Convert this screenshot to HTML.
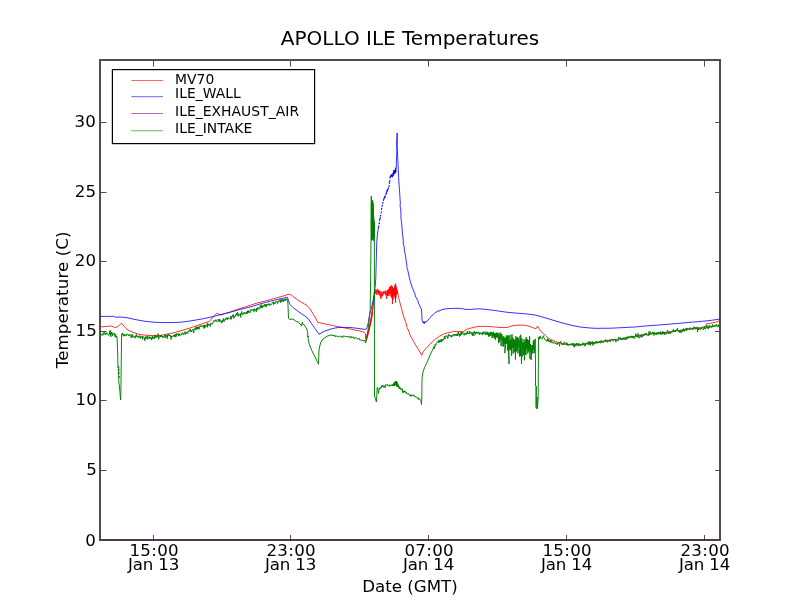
<!DOCTYPE html>
<html lang="en"><head><meta charset="utf-8"><title>APOLLO ILE Temperatures</title>
<style>
html,body{margin:0;padding:0;background:#fff;overflow:hidden}
svg{display:block}
text{font-family:"DejaVu Sans","Liberation Sans",sans-serif;fill:#000}
.t{font-size:16.67px}
.x{letter-spacing:0.3px}
.j{letter-spacing:-0.2px}
.l{font-size:13.89px;letter-spacing:0.05px}
.ti{font-size:20px}
.c{fill:none;stroke-width:0.8;stroke-linejoin:round}
</style></head><body>
<svg width="800" height="600" viewBox="0 0 800 600">
<rect width="800" height="600" fill="#fff"/>
<text class="ti" x="410" y="45" text-anchor="middle">APOLLO ILE Temperatures</text>
<rect x="100" y="60" width="620" height="480" fill="none" stroke="#4e4e4e" stroke-width="2"/>
<clipPath id="ax"><rect x="100" y="60" width="620" height="480"/></clipPath>
<g class="c" clip-path="url(#ax)">
<path stroke="#ff0000" d="M99.5 327.0 L105.0 326.5 L111.5 326.0 L114.5 327.5 L117.0 327.0 L119.0 325.5 L121.5 323.2 L123.0 325.0 L126.0 328.5 L128.0 330.0 L133.0 332.3 L138.0 334.0 L143.0 335.0 L150.0 335.5 L160.0 335.5 L165.0 334.5 L170.0 333.5 L175.0 332.5 L180.0 331.0 L190.0 328.0 L200.0 324.5 L209.5 321.3 L213.0 317.0 L216.5 313.3 L218.0 313.5 L220.0 315.0 L225.0 313.5 L230.0 312.0 L240.0 308.5 L245.0 307.0 L255.0 303.7 L265.0 301.0 L275.0 298.3 L285.0 295.5 L288.0 294.3 L290.5 294.5 L295.0 298.0 L300.0 301.5 L307.0 305.5 L310.0 308.8 L315.0 317.0 L317.8 322.3 L320.0 322.8 L330.0 325.0 L340.0 327.0 L350.0 329.0 L360.0 331.0 L364.0 332.2 L365.3 333.5 L365.7 338.0 L366.1 341.1 L366.1 337.1 L366.7 339.5 L366.6 335.5 L367.2 337.9 L367.1 333.9 L367.7 336.3 L367.6 332.3 L368.2 334.7 L368.1 330.7 L368.6 333.1 L368.5 329.1 L369.0 331.5 L368.9 327.5 L369.4 329.9 L369.3 325.9 L369.7 328.3 L369.6 324.3 L370.1 326.7 L370.0 322.7 L370.5 325.1 L370.3 321.1 L370.8 323.5 L370.6 319.5 L371.1 321.9 L370.9 317.9 L371.4 320.3 L371.2 316.3 L371.7 318.7 L371.5 314.7 L372.0 317.1 L371.8 313.1 L372.2 315.5 L372.0 311.5 L372.4 313.9 L372.2 310.6 L372.6 311.6 L372.4 309.0 L372.8 310.0 L372.6 307.4 L373.0 308.4 L372.8 305.8 L373.2 306.8 L373.0 304.2 L373.4 305.2 L373.2 302.6 L373.6 303.6 L373.4 301.0 L373.8 302.0 L373.6 299.4 L374.0 300.4 L373.9 297.8 L374.3 298.8 L374.0 296.2 L374.4 297.2 L374.2 294.6 L374.6 295.6 L374.4 293.0 L374.8 294.0 L374.6 291.4 L374.9 292.4 L374.7 289.8 L375.2 289.2 L375.6 293.6 L376.2 289.9 L376.8 295.0 L377.3 288.9 L377.8 293.0 L378.3 289.8 L378.7 294.5 L379.1 290.6 L379.6 295.5 L380.1 291.0 L380.7 298.1 L380.8 298.9 L381.1 291.6 L381.6 297.3 L382.1 292.4 L382.7 296.1 L383.2 291.3 L383.6 294.1 L384.1 291.7 L384.6 293.4 L385.2 290.5 L385.6 295.2 L386.1 291.2 L386.7 298.6 L386.7 298.9 L387.2 290.6 L387.5 295.9 L387.9 289.7 L388.3 295.2 L388.6 289.1 L389.0 295.9 L389.3 288.6 L389.5 287.0 L389.7 294.0 L390.0 287.1 L390.3 293.3 L390.6 286.4 L391.0 296.5 L391.2 285.2 L391.3 287.5 L391.7 297.7 L392.0 286.6 L392.3 299.0 L392.4 286.5 L392.5 304.0 L392.6 288.7 L393.0 299.6 L393.3 288.2 L393.7 295.2 L394.0 288.3 L394.4 296.9 L394.7 285.4 L395.1 296.0 L395.3 299.0 L395.4 286.9 L395.4 283.5 L395.6 302.5 L395.8 285.0 L395.8 298.2 L396.2 287.0 L396.4 294.5 L396.7 288.5 L397.1 293.7 L397.5 290.5 L397.5 292.0 L398.7 297.5 L400.0 303.0 L401.5 308.5 L403.0 314.0 L404.5 319.0 L406.0 323.0 L407.0 327.5 L409.0 331.5 L410.0 335.0 L412.0 338.5 L415.0 344.0 L419.0 350.5 L421.7 355.3 L423.0 352.0 L426.0 348.5 L430.0 344.0 L435.0 339.5 L440.0 335.8 L445.0 333.5 L450.0 332.3 L455.0 331.4 L460.0 331.5 L463.0 332.0 L465.0 330.5 L468.0 328.8 L470.0 328.3 L475.0 327.0 L480.0 326.3 L490.0 326.5 L500.0 327.5 L507.0 327.5 L512.0 325.8 L520.0 325.0 L525.0 325.3 L530.0 326.5 L535.0 328.5 L536.3 328.5 L537.5 326.0 L539.0 328.5 L541.0 331.5 L545.0 335.0 L548.0 338.0 L552.0 340.0 L558.0 342.5 L565.0 344.0 L575.0 345.0 L580.0 344.5 L590.0 343.5 L600.0 342.0 L605.0 341.0 L610.0 340.0 L620.0 339.0 L625.0 338.0 L630.0 337.0 L640.0 335.3 L650.0 334.0 L660.0 333.0 L670.0 331.7 L680.0 330.5 L690.0 329.0 L700.0 327.8 L705.5 326.5 L706.5 324.0 L708.0 323.5 L712.0 323.0 L716.0 322.0 L718.0 321.5 L719.3 320.5 L721.0 319.5"/>
<path stroke="#0000ff" d="M99.5 316.5 L113.2 316.3 L113.7 315.8 L115.0 317.2 L120.0 317.0 L126.0 317.5 L135.0 319.5 L145.0 321.3 L155.0 322.3 L165.0 322.6 L172.0 322.5 L180.0 322.3 L190.0 321.0 L200.0 319.3 L210.0 317.3 L220.0 314.8 L230.0 312.3 L240.0 309.5 L250.0 307.0 L255.0 305.5 L265.0 302.5 L275.0 300.0 L285.0 297.8 L287.5 297.3 L288.5 301.0 L290.0 304.5 L293.0 307.5 L300.0 312.8 L305.0 316.0 L308.0 318.5 L311.5 323.5 L315.0 328.5 L319.0 334.3 L322.0 332.5 L325.0 331.0 L330.0 329.3 L335.0 328.0 L340.0 327.3 L350.0 327.5 L355.0 328.0 L360.0 328.7 L364.0 329.3 L366.0 329.3 L367.0 327.5 L368.0 324.0 L369.0 318.0 L370.0 313.5 L371.5 308.0 L373.0 301.0 L374.3 293.0 L375.3 285.0 L375.8 278.0 L376.0 270.0 L376.4 255.0 L376.8 241.0 L376.9 240.9 L377.2 236.1 L377.4 236.2 L377.7 232.0 L378.1 230.5 L378.4 227.0"/>
<path stroke="#0000ff" stroke-dasharray="2.6 1.3" stroke-width="0.95" d="M378.4 227.0 L378.6 227.4 L379.1 223.6 L379.3 224.1 L379.8 218.3 L380.1 219.3 L380.3 215.1 L380.6 216.2 L380.9 213.6 L381.3 212.6 L381.7 208.1 L382.0 208.3 L382.2 205.4 L382.5 205.9 L382.8 202.1 L383.2 202.6 L383.5 199.3 L383.9 200.5 L384.2 197.5 L384.7 198.9 L385.0 195.1 L385.2 197.1 L385.6 194.3 L386.0 194.6 L386.4 191.7 L386.7 193.8 L387.0 190.1 L387.4 191.7 L387.7 188.2 L388.2 189.4 L388.6 186.5 L389.0 187.1 L389.4 182.4 L389.7 183.7 L390.1 176.5"/>
<path stroke="#0000ff" d="M390.1 176.5 L390.4 177.6 L390.7 175.3 L391.1 176.5 L391.4 174.4 L391.8 176.7 L392.1 174.5 L392.6 177.2 L393.0 172.6 L393.4 175.9 L393.8 170.3 L394.0 174.3 L394.3 170.1 L394.7 173.9 L395.0 169.7 L395.3 173.1 L395.6 167.7 L396.0 172.1 L395.8 170.0 L396.4 166.0 L396.3 162.0 L396.9 150.0 L396.7 143.0 L397.1 133.0 L397.3 140.0 L397.1 147.0 L397.6 155.0 L398.2 168.0 L398.5 175.0 L399.0 184.0 L399.5 190.0 L400.3 203.0 L400.1 206.0 L400.7 209.0 L401.0 215.0 L400.8 217.0 L401.5 222.0 L402.2 230.0 L403.0 238.0 L403.4 241.0 L403.1 243.0 L404.0 246.0 L404.6 251.0 L405.5 256.0 L406.2 261.0 L407.0 266.0 L406.8 267.5 L407.5 269.0 L409.0 276.0 L410.0 280.5 L412.0 287.0 L415.0 294.0 L415.3 296.0 L418.0 301.0 L418.4 303.0 L421.3 309.0 L421.7 312.0 L422.0 320.0 L422.6 321.5 L423.2 323.0 L423.6 321.5 L424.2 323.7 L424.7 321.6 L425.3 322.5 L426.0 321.3 L427.0 321.5 L430.0 317.5 L433.0 314.8 L434.5 313.3 L437.0 311.5 L437.5 310.7 L438.0 311.5 L440.0 310.5 L443.0 309.3 L447.0 308.7 L455.0 308.3 L460.0 308.4 L460.8 309.0 L462.0 308.2 L464.0 309.2 L470.0 309.5 L478.0 308.8 L485.0 309.3 L495.0 310.5 L505.0 312.0 L515.0 313.0 L525.0 313.8 L535.0 315.0 L540.0 316.3 L550.0 319.3 L560.0 322.3 L570.0 325.0 L580.0 327.0 L590.0 328.0 L595.0 328.3 L600.0 328.3 L610.0 328.2 L615.0 328.0 L625.0 327.5 L635.0 327.0 L645.0 326.0 L655.0 325.3 L665.0 324.5 L675.0 323.7 L685.0 322.8 L690.0 322.3 L700.0 321.5 L710.0 320.5 L718.0 319.3 L721.0 318.9"/>
<path stroke="#800080" d="M99.0 540.0 L721.0 540.0"/>
<path stroke="#008000" stroke-width="0.95" d="M99.5 336.6 L100.1 334.0 L100.7 335.6 L101.1 333.8 L101.7 334.7 L102.1 335.0 L102.4 335.5 L102.8 334.6 L103.3 332.8 L103.6 334.6 L104.2 332.1 L104.8 333.0 L105.3 335.0 L105.9 333.0 L106.2 334.1 L106.8 332.6 L107.4 334.3 L107.8 334.1 L108.3 334.5 L108.5 334.0 L109.0 335.4 L109.3 334.3 L109.6 331.5 L109.9 334.0 L110.2 330.2 L110.8 336.9 L111.2 332.0 L111.6 333.9 L112.0 332.5 L112.4 336.1 L113.0 333.2 L113.3 333.3 L113.7 334.2 L114.3 333.1 L114.5 335.4 L114.9 335.1 L115.2 337.0 L115.7 334.3 L116.0 337.3 L116.4 336.0 L116.7 337.4 L116.8 337.0 L117.1 338.0 L117.7 355.0 L118.0 368.0 L118.9 366.5 L118.1 371.0 L119.1 369.5 L118.1 374.0 L119.2 372.5 L118.3 377.5 L119.3 376.0 L118.6 380.5 L119.4 386.0 L120.6 400.0 L120.9 392.0 L121.6 334.5 L121.8 335.2 L122.3 332.9 L122.7 335.0 L123.0 333.7 L123.6 336.3 L124.1 334.4 L124.7 335.8 L125.0 334.4 L125.5 335.6 L125.9 336.1 L126.2 336.0 L126.8 334.0 L127.4 334.2 L127.9 334.6 L128.4 335.8 L128.9 334.3 L129.5 335.5 L130.1 334.5 L130.5 334.5 L130.8 334.5 L131.1 338.0 L131.6 335.2 L132.1 337.1 L132.7 334.5 L133.2 337.2 L133.5 336.3 L134.1 337.4 L134.5 336.7 L135.1 338.2 L135.7 335.7 L136.0 337.1 L136.3 334.4 L136.7 336.6 L137.1 336.0 L137.7 336.1 L138.1 337.5 L138.7 335.9 L139.1 337.4 L139.4 336.6 L139.8 335.6 L140.3 338.6 L140.8 336.7 L141.3 336.3 L141.7 337.5 L142.2 336.3 L142.7 339.3 L143.0 336.4 L143.3 337.5 L143.8 337.4 L144.3 337.5 L144.9 340.8 L145.4 336.7 L145.6 338.6 L146.2 336.6 L146.6 337.1 L147.0 338.9 L147.4 335.8 L147.7 339.4 L148.3 337.3 L148.7 336.8 L149.2 338.5 L149.5 336.6 L150.1 338.5 L150.5 337.5 L150.9 337.4 L151.4 340.1 L152.0 336.9 L152.4 336.0 L152.7 339.1 L153.0 338.4 L153.4 338.3 L153.7 338.8 L154.2 336.2 L154.5 338.6 L154.8 336.2 L155.4 334.8 L155.9 337.9 L156.4 336.1 L156.8 337.2 L157.1 336.0 L157.5 337.0 L158.1 333.6 L158.7 339.3 L159.0 336.5 L159.6 336.9 L159.9 336.7 L160.2 335.4 L160.5 337.1 L160.9 335.4 L161.2 337.0 L161.6 335.1 L162.2 337.1 L162.8 336.2 L163.1 337.9 L163.5 336.6 L164.0 336.2 L164.4 335.8 L164.7 335.1 L165.1 338.0 L165.7 334.7 L166.0 336.9 L166.6 335.5 L167.0 337.1 L167.3 338.6 L167.7 334.5 L168.2 335.6 L168.5 334.1 L169.0 335.5 L169.4 334.8 L169.6 336.0 L170.1 335.6 L170.4 335.1 L170.8 337.6 L171.1 339.5 L171.4 336.1 L171.9 337.1 L172.3 336.1 L172.8 335.8 L173.2 336.5 L173.7 335.2 L174.1 336.5 L174.5 334.5 L174.8 336.4 L175.3 337.2 L175.8 333.9 L176.1 336.7 L176.5 333.6 L177.0 334.8 L177.3 334.2 L177.8 335.2 L178.2 333.4 L178.5 334.8 L178.9 336.2 L179.2 333.7 L179.8 335.5 L180.3 335.4 L180.8 335.1 L181.1 333.7 L181.7 334.6 L182.3 332.6 L182.6 332.7 L183.2 334.4 L183.5 335.1 L184.1 333.1 L184.6 333.0 L185.0 331.6 L185.3 334.3 L185.5 332.8 L186.1 334.0 L186.6 332.3 L187.2 331.9 L187.8 333.4 L188.2 331.5 L188.6 332.0 L189.1 330.2 L189.7 331.2 L190.2 329.0 L190.8 332.0 L191.2 330.5 L191.7 331.7 L192.1 330.2 L192.5 330.1 L193.1 329.2 L193.7 333.0 L194.3 329.2 L194.7 329.1 L195.1 327.9 L195.6 329.8 L195.9 327.1 L196.3 329.3 L196.7 326.7 L197.0 329.3 L197.3 329.1 L197.8 326.7 L198.2 328.9 L198.6 326.9 L199.0 329.4 L199.6 326.7 L200.1 325.4 L200.6 326.6 L201.1 325.9 L201.6 326.9 L202.1 325.4 L202.4 325.8 L202.8 326.0 L203.3 327.3 L203.9 324.9 L204.2 328.5 L204.5 325.3 L204.8 327.4 L205.2 325.2 L205.7 327.3 L206.1 325.8 L206.7 325.9 L207.2 323.4 L207.6 327.3 L207.9 323.5 L208.5 325.3 L209.0 323.9 L209.5 325.1 L209.9 324.3 L210.3 326.6 L210.9 322.9 L211.4 323.3 L212.0 323.7 L212.3 324.3 L212.8 323.0 L213.3 321.6 L213.7 320.9 L214.0 320.3 L214.6 321.5 L215.2 320.4 L215.6 321.2 L216.0 319.5 L216.4 320.8 L216.9 321.8 L217.4 321.4 L217.9 321.9 L218.4 319.2 L218.9 321.0 L219.2 319.0 L219.6 321.5 L220.0 319.7 L220.3 320.9 L220.9 321.4 L221.4 323.2 L222.0 320.5 L222.5 322.3 L222.8 319.9 L223.1 320.8 L223.4 318.5 L223.7 320.2 L224.1 321.7 L224.6 319.4 L225.2 319.8 L225.6 318.4 L226.1 319.4 L226.8 317.6 L227.4 319.8 L228.0 317.5 L228.6 318.9 L229.2 318.3 L229.6 319.1 L230.2 318.3 L230.7 315.9 L231.1 319.5 L231.6 316.7 L232.1 317.2 L232.5 314.9 L232.9 316.5 L233.5 314.7 L233.8 318.5 L234.3 316.3 L234.7 317.0 L235.2 316.5 L235.8 314.3 L236.1 315.5 L236.7 313.5 L237.1 314.8 L237.6 312.1 L238.1 316.4 L238.3 313.7 L238.9 314.5 L239.5 315.4 L240.0 315.4 L240.4 313.3 L240.8 317.4 L241.1 313.8 L241.7 311.5 L242.2 314.0 L242.7 315.0 L243.0 314.3 L243.3 312.8 L243.7 314.0 L244.3 312.3 L244.7 313.9 L245.3 313.7 L245.8 312.5 L246.1 313.5 L246.6 312.4 L246.9 314.0 L247.2 311.0 L247.7 313.0 L248.0 310.5 L248.5 312.3 L248.8 310.8 L249.2 312.5 L249.6 311.5 L250.0 312.8 L250.5 311.6 L250.9 309.3 L251.5 310.7 L252.1 309.7 L252.4 310.3 L252.7 310.3 L253.1 310.5 L253.6 309.1 L254.0 311.7 L254.5 308.6 L254.9 309.9 L255.5 310.6 L255.9 309.5 L256.4 311.8 L256.7 308.0 L257.2 307.8 L257.7 310.0 L258.3 307.4 L258.9 308.6 L259.4 307.7 L259.9 308.6 L260.3 305.3 L260.8 307.5 L261.2 305.6 L261.6 307.6 L261.8 304.7 L262.3 308.1 L262.6 306.2 L263.0 306.8 L263.6 305.4 L264.2 306.5 L264.7 304.1 L265.2 306.3 L265.8 304.5 L266.2 307.1 L266.6 304.1 L267.1 305.3 L267.5 304.0 L268.0 304.9 L268.6 303.5 L269.2 305.4 L269.8 303.7 L270.2 305.3 L270.6 304.3 L271.0 304.9 L271.7 303.8 L272.1 303.2 L272.7 302.2 L273.2 301.8 L273.5 304.6 L273.9 302.0 L274.4 302.9 L274.9 304.0 L275.4 302.3 L275.9 302.1 L276.2 301.0 L276.5 301.9 L276.8 302.1 L277.2 301.5 L277.6 303.6 L278.2 301.8 L278.8 300.7 L279.2 301.7 L279.6 301.2 L280.2 299.2 L280.6 302.6 L280.9 299.9 L281.2 301.7 L281.6 300.3 L281.9 301.4 L282.2 299.1 L282.6 301.1 L283.2 299.5 L283.7 301.7 L284.1 299.3 L284.6 300.2 L285.1 298.9 L285.4 300.7 L285.9 298.6 L286.2 300.3 L286.7 299.4 L287.0 299.5 L287.4 300.0 L287.6 299.5 L288.0 305.0 L288.5 318.5 L290.0 319.5 L293.0 319.0 L295.0 320.5 L297.0 322.0 L298.2 321.6 L300.0 324.3 L301.0 324.7 L301.5 326.2 L302.3 322.3 L303.0 324.5 L304.0 324.6 L306.0 327.6 L307.3 330.5 L307.8 334.0 L307.6 337.0 L308.3 336.0 L308.2 340.0 L309.5 345.0 L312.0 351.0 L315.0 357.0 L318.0 363.0 L318.5 364.3 L318.8 355.0 L319.0 350.0 L320.0 345.0 L321.0 342.0 L323.0 339.0 L325.0 337.5 L328.0 335.8 L332.0 334.8 L332.0 335.5 L333.2 335.1 L333.9 336.2 L334.5 335.0 L335.4 336.8 L336.1 335.6 L336.9 336.6 L337.9 336.7 L339.1 336.0 L340.3 336.7 L341.2 336.2 L342.4 337.8 L343.1 335.7 L343.8 336.7 L344.6 336.2 L345.3 336.6 L346.0 336.4 L347.2 336.7 L348.1 336.0 L348.9 337.4 L349.9 336.5 L350.7 338.3 L351.3 336.2 L352.2 337.4 L353.4 336.9 L354.2 338.9 L354.9 337.5 L355.6 337.3 L356.2 338.3 L357.0 338.3 L358.2 339.2 L359.1 338.1 L360.1 340.3 L360.7 339.6 L361.8 340.9 L362.8 340.0 L363.9 341.3 L364.7 340.2 L365.0 340.6 L365.5 343.0 L366.3 340.5 L367.0 338.0 L368.0 330.0 L369.0 322.0 L369.5 315.0 L370.2 310.0 L370.6 280.0 L371.0 240.0 L371.3 196.0 L371.4 230.6 L371.5 202.0 L371.7 240.4 L371.8 200.7 L372.0 230.8 L372.1 201.0 L372.2 238.4 L372.4 200.3 L372.5 234.5 L372.6 203.3 L372.7 233.1 L372.8 201.6 L372.9 239.9 L373.0 203.7 L373.1 237.7 L373.3 207.5 L373.4 234.9 L373.5 216.4 L373.6 240.7 L373.7 216.5 L373.8 235.9 L374.0 220.4 L374.1 238.0 L374.2 222.1 L374.3 235.2 L374.4 226.0 L374.4 300.0 L374.5 396.0 L375.3 398.0 L376.4 402.0 L377.2 387.3 L377.8 389.0 L378.5 393.5 L379.3 388.0 L379.5 388.8 L380.0 387.6 L380.2 388.7 L380.7 388.3 L381.0 387.3 L381.3 388.0 L381.8 385.7 L382.3 387.0 L382.6 385.1 L382.8 386.3 L383.1 386.0 L383.5 387.3 L383.8 385.8 L384.2 386.3 L384.7 385.8 L385.1 387.9 L385.6 384.7 L385.9 385.2 L386.4 384.8 L386.8 385.2 L387.3 384.5 L387.5 384.4 L387.9 385.9 L388.5 385.9 L389.0 385.7 L389.5 384.7 L389.9 386.3 L390.4 385.1 L390.9 385.5 L391.3 385.1 L391.6 385.7 L392.0 384.4 L392.3 384.4 L392.9 385.9 L393.0 385.3 L393.1 384.6 L393.4 386.0 L393.6 383.6 L393.9 385.9 L394.1 382.8 L394.4 385.6 L394.7 382.4 L394.9 385.4 L395.2 381.4 L395.5 384.9 L395.8 381.1 L396.0 385.2 L396.3 381.1 L396.6 386.4 L396.9 381.8 L397.1 386.8 L397.4 383.1 L397.7 386.5 L397.9 384.2 L398.1 387.0 L398.3 385.3 L398.6 387.2 L398.9 385.9 L399.0 388.6 L399.4 387.1 L399.6 388.5 L400.1 387.4 L400.4 389.3 L400.9 389.0 L401.5 390.0 L402.0 388.4 L402.3 391.6 L402.6 390.5 L403.1 393.1 L403.7 390.9 L404.1 392.1 L404.4 390.7 L404.8 391.8 L405.1 391.1 L405.5 392.8 L405.8 392.5 L406.1 393.4 L406.5 392.5 L406.9 393.1 L407.3 394.1 L407.9 393.7 L408.2 394.1 L408.5 393.4 L409.0 394.7 L409.4 395.4 L409.7 395.5 L410.0 395.0 L410.5 396.3 L410.9 394.5 L411.5 396.2 L411.8 395.4 L412.2 396.0 L412.7 395.1 L413.2 395.2 L413.5 395.3 L413.8 394.7 L414.2 396.6 L414.7 396.3 L415.2 397.0 L415.7 396.8 L416.0 396.5 L416.4 397.5 L416.8 397.2 L417.4 397.9 L417.7 397.6 L418.2 399.4 L418.6 397.9 L418.8 397.8 L419.1 399.4 L419.6 399.1 L420.0 399.2 L420.3 400.4 L420.6 400.5 L421.0 401.0 L421.5 404.5 L421.8 398.0 L422.0 378.0 L423.0 372.0 L424.0 369.0 L425.0 366.7 L426.5 363.5 L428.5 359.0 L430.0 355.0 L432.0 351.0 L434.0 347.0 L434.0 349.0 L434.3 345.6 L434.6 347.1 L435.0 346.1 L435.3 344.1 L435.7 345.3 L436.2 343.6 L436.6 342.7 L437.0 341.8 L437.5 342.2 L438.0 341.5 L438.5 342.8 L439.0 339.8 L439.4 342.4 L439.9 340.4 L440.4 341.9 L441.0 339.3 L441.5 342.1 L441.8 339.1 L442.3 340.9 L442.8 340.7 L443.3 338.8 L443.6 339.7 L444.0 338.7 L444.4 336.3 L445.0 339.1 L445.3 336.5 L445.9 337.0 L446.4 335.6 L447.0 335.4 L447.4 337.0 L447.8 338.6 L448.1 337.0 L448.7 334.3 L449.3 336.0 L449.7 334.9 L450.1 335.9 L450.7 336.0 L451.1 337.0 L451.6 335.0 L451.9 337.2 L452.5 335.3 L453.1 335.8 L453.5 334.2 L453.7 335.0 L454.2 334.0 L454.7 335.7 L455.2 334.0 L455.8 335.7 L456.4 334.1 L456.8 335.9 L457.2 333.7 L457.8 335.9 L458.3 332.0 L458.6 333.7 L459.0 333.1 L459.5 336.6 L460.1 333.9 L460.5 335.4 L461.1 332.0 L461.6 334.9 L462.0 331.5 L462.4 333.1 L462.9 332.2 L463.2 334.5 L463.8 334.4 L464.3 335.3 L464.8 332.9 L465.4 333.6 L465.9 334.9 L466.4 332.5 L466.9 334.0 L467.5 331.0 L467.9 333.8 L468.4 333.0 L468.8 333.6 L469.4 331.1 L469.8 334.1 L470.1 332.5 L470.5 331.8 L470.9 331.9 L471.3 332.2 L471.6 334.2 L472.0 333.2 L472.4 335.6 L472.9 332.1 L473.4 333.6 L473.9 336.0 L474.3 331.0 L474.9 333.2 L475.5 334.3 L475.9 332.0 L476.2 333.3 L476.8 331.8 L477.3 333.6 L477.9 332.2 L478.2 332.2 L478.6 333.6 L479.0 332.4 L479.3 333.9 L479.6 335.0 L480.1 332.5 L480.6 333.3 L481.0 332.7 L481.3 333.9 L481.7 333.2 L482.2 334.9 L482.5 332.1 L483.0 334.4 L483.4 331.7 L484.0 333.0 L484.3 333.3 L484.9 331.7 L485.3 334.8 L485.8 332.5 L486.3 332.7 L486.8 334.7 L487.3 332.9 L487.6 334.9 L488.2 333.2 L488.7 336.6 L489.2 334.2 L489.7 334.9 L490.0 333.6 L486.5 331.8 L489.5 336.3 L490.2 332.0 L490.7 335.9 L491.0 331.8 L491.1 331.8 L491.5 334.5 L491.9 332.4 L492.1 338.1 L492.2 336.3 L492.7 332.7 L493.1 336.3 L493.5 332.2 L493.6 331.8 L494.0 338.0 L494.4 333.7 L494.8 338.4 L495.1 333.0 L495.4 337.1 L495.5 340.0 L495.9 333.7 L496.3 337.3 L496.6 333.3 L497.0 337.2 L497.0 332.5 L497.4 333.7 L497.8 337.7 L498.2 333.0 L498.5 343.0 L498.6 339.6 L499.0 335.2 L499.5 342.1 L500.0 334.7 L500.0 332.5 L500.4 338.7 L500.7 333.1 L501.1 346.0 L501.2 342.8 L501.6 334.6 L501.9 334.0 L502.0 340.4 L502.4 337.6 L502.8 340.5 L503.0 346.8 L503.1 336.5 L503.6 345.9 L503.8 336.3 L504.0 336.5 L504.3 343.8 L504.8 337.9 L504.9 353.1 L505.3 349.6 L505.7 337.7 L506.2 343.7 L506.4 335.5 L506.5 337.8 L506.9 343.8 L507.3 335.6 L507.5 350.5 L507.8 348.2 L508.2 340.8 L508.3 335.5 L508.6 354.2 L509.0 364.0 L509.0 341.0 L509.5 348.9 L509.8 336.3 L510.1 334.8 L510.2 350.1 L510.5 339.8 L511.0 349.4 L511.3 339.5 L511.6 355.8 L511.7 344.6 L512.0 334.4 L512.0 337.7 L512.5 347.7 L512.9 337.6 L513.1 353.5 L513.3 350.9 L513.7 339.0 L514.1 347.8 L514.3 340.0 L514.4 341.6 L514.8 352.3 L515.3 339.8 L515.4 359.5 L515.6 353.2 L515.8 336.3 L515.9 338.9 L516.3 351.5 L516.7 337.9 L517.2 350.4 L517.3 337.0 L517.6 337.8 L518.0 353.5 L518.0 348.5 L518.3 338.5 L518.8 337.8 L518.8 347.1 L519.2 340.7 L519.5 356.5 L519.7 351.0 L520.1 335.8 L520.5 356.0 L520.6 334.8 L520.9 335.7 L521.2 350.8 L521.5 364.0 L521.7 338.9 L522.1 338.5 L522.1 356.8 L522.6 343.2 L522.9 348.0 L523.2 342.0 L523.3 355.0 L523.6 353.6 L524.0 340.1 L524.0 339.3 L524.4 360.3 L524.5 350.7 L524.9 342.5 L525.1 343.0 L525.3 354.1 L525.8 339.4 L525.9 355.0 L526.3 337.0 L526.3 348.9 L526.7 339.7 L527.2 349.1 L527.6 339.1 L527.8 353.5 L527.9 349.0 L528.3 341.2 L528.5 340.0 L528.6 351.5 L528.9 342.3 L529.4 349.9 L529.6 336.3 L529.7 340.0 L530.0 358.8 L530.0 350.8 L530.3 344.0 L530.8 351.8 L531.1 345.3 L531.1 359.9 L531.5 355.4 L531.9 346.3 L531.9 345.3 L532.2 353.2 L532.6 345.1 L533.0 353.5 L533.0 350.7 L533.3 341.4 L533.7 349.6 L533.8 340.0 L534.1 341.4 L534.5 347.6 L534.5 352.8 L534.9 341.0 L535.1 338.9 L535.3 339.0 L535.5 370.0 L535.5 386.0 L535.6 386.0 L536.8 386.5 L535.6 387.0 L536.8 387.5 L535.6 388.0 L536.8 388.5 L535.6 389.0 L536.8 389.5 L535.6 390.0 L536.8 390.5 L535.6 391.0 L536.8 391.5 L535.6 392.0 L536.8 392.5 L535.6 393.0 L536.8 393.5 L535.6 394.0 L536.8 394.5 L535.6 395.0 L536.8 395.5 L535.6 396.0 L536.8 396.5 L535.6 397.0 L537.5 397.5 L535.6 398.0 L537.5 398.5 L535.6 399.0 L537.5 399.5 L535.6 400.0 L537.5 400.5 L535.6 401.0 L537.5 401.5 L535.6 402.0 L537.5 402.5 L535.6 403.0 L537.5 403.5 L535.6 404.0 L537.5 404.5 L535.6 405.0 L537.5 405.5 L535.6 406.0 L537.5 406.5 L535.6 407.0 L537.5 407.5 L536.3 408.3 L537.5 408.8 L538.2 397.0 L538.4 360.0 L538.5 337.0 L538.6 338.4 L539.1 336.9 L539.7 339.2 L540.1 336.0 L540.5 338.0 L541.1 337.8 L541.5 338.5 L541.9 339.2 L542.3 337.4 L542.7 337.7 L543.3 335.7 L543.8 337.1 L544.4 339.0 L544.7 338.8 L545.2 340.0 L545.6 340.3 L546.1 340.0 L546.5 340.6 L547.0 341.4 L547.4 338.7 L547.7 341.0 L548.3 339.2 L548.6 341.6 L549.1 339.9 L549.4 341.9 L549.8 341.2 L550.4 342.3 L550.8 340.1 L551.3 342.3 L551.7 340.7 L552.1 342.5 L552.5 342.1 L553.0 343.3 L553.3 343.5 L553.9 342.7 L554.4 341.8 L555.0 343.2 L555.4 343.8 L555.9 342.9 L556.4 343.8 L556.8 343.5 L557.2 344.8 L557.7 342.7 L558.2 342.9 L558.6 342.8 L559.0 342.7 L559.6 346.3 L560.0 341.6 L560.5 341.5 L561.0 341.6 L561.4 344.1 L561.9 344.1 L562.4 344.9 L563.0 343.7 L563.6 345.1 L564.0 342.5 L564.7 341.9 L565.3 344.4 L565.9 343.7 L566.4 345.1 L566.9 342.6 L567.3 343.9 L567.8 345.5 L568.3 344.6 L568.8 345.6 L569.4 344.1 L569.7 344.7 L570.3 343.7 L570.8 345.2 L571.2 344.4 L571.5 344.9 L572.0 343.3 L572.5 345.3 L573.1 343.0 L573.4 343.5 L573.9 346.5 L574.2 343.6 L574.5 347.3 L575.0 344.4 L575.6 344.2 L576.0 346.1 L576.3 343.0 L576.9 344.9 L577.3 344.9 L577.9 343.2 L578.4 346.2 L578.7 344.5 L579.1 345.4 L579.4 343.5 L579.9 345.3 L580.4 344.1 L580.8 345.6 L581.3 344.9 L581.9 345.4 L582.2 345.2 L582.5 345.2 L583.0 342.7 L583.3 345.0 L583.8 343.4 L584.4 343.5 L584.8 346.2 L585.3 346.0 L585.7 343.5 L586.1 343.8 L586.4 344.0 L586.9 342.6 L587.6 344.4 L588.1 343.2 L588.6 341.5 L589.2 345.0 L589.6 341.6 L589.9 342.0 L590.4 345.3 L590.9 341.7 L591.5 344.0 L591.9 342.6 L592.3 341.2 L592.9 345.5 L593.5 342.0 L593.8 343.3 L594.4 342.1 L594.9 344.2 L595.3 343.8 L595.7 343.3 L596.0 341.1 L596.3 342.8 L596.7 343.2 L597.2 343.4 L597.7 341.4 L598.3 343.1 L598.9 341.7 L599.4 342.4 L599.8 341.0 L600.4 343.2 L600.8 342.8 L601.2 340.3 L601.6 342.3 L602.1 342.6 L602.6 341.5 L602.9 341.5 L603.4 342.6 L603.9 340.5 L604.4 340.5 L604.9 340.4 L605.2 341.6 L605.8 339.5 L606.3 341.5 L606.6 341.1 L607.1 342.5 L607.4 340.1 L607.8 340.7 L608.2 340.1 L608.7 340.9 L609.0 341.8 L609.4 341.5 L609.8 339.7 L610.4 341.7 L610.8 340.8 L611.4 340.0 L611.9 338.9 L612.4 339.1 L612.9 339.8 L613.3 341.3 L613.8 340.4 L614.4 339.0 L615.0 340.0 L615.3 339.2 L615.9 342.1 L616.4 339.7 L616.7 340.2 L617.3 340.8 L617.8 341.1 L618.3 340.3 L618.8 337.2 L619.2 338.3 L619.9 338.3 L620.2 339.7 L620.5 337.6 L621.1 339.0 L621.7 339.8 L622.1 338.5 L622.6 340.1 L623.0 338.2 L623.6 337.8 L624.2 340.0 L624.8 339.4 L625.1 337.5 L625.4 338.2 L625.9 339.9 L626.2 339.3 L626.7 336.8 L627.2 338.8 L627.8 336.8 L628.4 336.3 L628.8 338.3 L629.1 336.7 L629.8 337.1 L630.2 337.0 L630.7 337.4 L631.3 335.9 L631.6 337.6 L632.0 335.9 L632.3 338.1 L633.0 336.0 L633.4 336.7 L633.9 338.4 L634.5 338.5 L634.9 336.4 L635.3 336.8 L635.8 333.7 L636.3 336.5 L636.6 335.5 L637.1 337.4 L637.6 336.2 L638.1 333.3 L638.4 335.7 L638.7 337.5 L639.3 338.1 L639.9 335.9 L640.4 335.0 L641.0 337.5 L641.4 337.2 L641.7 334.1 L642.1 336.8 L642.7 336.7 L643.2 334.8 L643.6 336.0 L643.9 334.2 L644.4 335.2 L644.9 333.4 L645.3 335.2 L645.9 333.9 L646.3 333.0 L646.8 334.9 L647.2 335.4 L647.7 336.1 L648.2 335.4 L648.5 335.9 L649.0 331.3 L649.4 332.7 L649.8 335.1 L650.3 331.7 L650.9 333.5 L651.4 333.7 L652.0 333.7 L652.5 332.2 L653.0 334.3 L653.5 332.7 L654.0 335.5 L654.3 331.8 L654.9 334.1 L655.2 333.5 L655.6 333.6 L656.2 335.0 L656.7 332.6 L657.1 334.1 L657.6 332.5 L658.1 334.4 L658.7 332.3 L659.2 334.2 L659.7 332.2 L660.2 333.9 L660.7 331.5 L661.1 334.7 L661.7 332.9 L662.3 334.4 L662.7 331.3 L663.2 331.9 L663.5 334.1 L664.1 332.1 L664.5 334.8 L665.0 332.7 L665.2 333.5 L665.7 332.0 L666.1 334.3 L666.6 333.2 L667.1 332.4 L667.5 330.0 L667.8 331.2 L668.1 333.8 L668.6 332.0 L669.1 333.9 L669.6 331.9 L670.2 333.4 L670.5 332.1 L670.9 333.3 L671.4 331.2 L672.0 332.1 L672.3 331.4 L672.8 332.2 L673.2 329.4 L673.6 331.7 L673.9 330.0 L674.4 332.0 L675.0 330.5 L675.5 331.7 L676.0 330.3 L676.3 331.0 L676.8 329.5 L677.1 330.4 L677.5 328.1 L677.8 330.1 L678.4 331.6 L678.8 330.9 L679.4 330.8 L679.7 332.5 L680.1 330.2 L680.7 330.1 L681.0 333.0 L681.3 331.3 L681.7 330.2 L682.0 331.8 L682.4 329.8 L683.0 331.1 L683.5 328.5 L683.9 331.3 L684.2 329.8 L684.6 331.2 L684.9 328.9 L685.3 330.2 L685.9 328.5 L686.4 330.7 L687.0 327.9 L687.3 329.3 L687.9 328.1 L688.2 328.9 L688.8 329.4 L689.3 329.8 L689.7 328.3 L690.1 329.4 L690.4 327.6 L691.0 328.3 L691.5 328.1 L692.0 329.6 L692.4 328.6 L692.7 329.5 L693.2 328.9 L693.6 329.2 L693.9 326.6 L694.4 328.0 L695.0 327.7 L695.2 327.0 L695.6 329.3 L696.1 328.4 L696.5 328.5 L697.1 326.8 L697.6 332.0 L698.0 327.5 L698.4 329.8 L698.8 328.0 L699.2 329.2 L699.6 327.8 L700.0 329.6 L700.6 329.6 L701.0 328.0 L701.3 329.0 L701.6 327.5 L701.9 327.6 L702.2 327.2 L702.8 327.5 L703.3 330.0 L703.8 329.1 L704.2 326.9 L704.5 328.8 L704.9 326.5 L705.5 329.0 L706.1 328.5 L706.8 325.3 L707.3 327.8 L707.8 326.4 L708.2 329.1 L708.6 327.0 L709.1 325.3 L709.8 327.9 L710.3 325.7 L710.9 326.5 L711.3 327.5 L711.8 325.8 L712.2 327.2 L712.8 324.5 L713.2 326.9 L713.7 325.8 L714.1 326.7 L714.6 325.2 L715.2 326.6 L715.7 324.9 L716.0 326.1 L716.6 324.1 L717.2 326.7 L717.6 326.7 L718.1 327.0 L718.5 324.7 L719.1 327.1 L719.4 325.0 L719.8 324.6 L720.2 327.5 L720.8 326.4 L721.0 326.0"/>
</g>
<path d="M101 470.5h5.6M719 470.5h-4M101 400.5h5.6M719 400.5h-4M101 331.5h5.6M719 331.5h-4M101 261.5h5.6M719 261.5h-4M101 192.5h5.6M719 192.5h-4M101 122.5h5.6M719 122.5h-4M153.5 539v-4M153.5 61v5.6M290.5 539v-4M290.5 61v5.6M428.5 539v-4M428.5 61v5.6M566.5 539v-4M566.5 61v5.6M704.5 539v-4M704.5 61v5.6" stroke="#505050" stroke-width="1" fill="none"/>
<path d="M101 540.5H719" stroke="#443f44" stroke-width="1" fill="none"/>
<path d="M153.5 539v2M290.5 539v2M428.5 539v2M566.5 539v2M704.5 539v2" stroke="#2a2a2a" stroke-width="1" fill="none"/>
<text class="t" x="95.8" y="545.9" text-anchor="end">0</text>
<text class="t" x="96.8" y="475.0" text-anchor="end">5</text>
<text class="t" x="96.8" y="405.0" text-anchor="end">10</text>
<text class="t" x="96.8" y="336.0" text-anchor="end">15</text>
<text class="t" x="96.0" y="266.0" text-anchor="end">20</text>
<text class="t" x="96.0" y="197.0" text-anchor="end">25</text>
<text class="t" x="95.8" y="127.0" text-anchor="end">30</text>
<text class="t x" x="154.2" y="556" text-anchor="middle">15:00</text>
<text class="t j" x="153.6" y="570" text-anchor="middle">Jan 13</text>
<text class="t x" x="291.2" y="556" text-anchor="middle">23:00</text>
<text class="t j" x="290.6" y="570" text-anchor="middle">Jan 13</text>
<text class="t x" x="429.2" y="556" text-anchor="middle">07:00</text>
<text class="t j" x="428.6" y="570" text-anchor="middle">Jan 14</text>
<text class="t x" x="567.2" y="556" text-anchor="middle">15:00</text>
<text class="t j" x="566.6" y="570" text-anchor="middle">Jan 14</text>
<text class="t x" x="705.2" y="556" text-anchor="middle">23:00</text>
<text class="t j" x="704.6" y="570" text-anchor="middle">Jan 14</text>
<text class="t" x="410" y="592" text-anchor="middle">Date (GMT)</text>
<text class="t" style="letter-spacing:0.1px" transform="translate(67.5 299.8) rotate(-90)" text-anchor="middle">Temperature (C)</text>
<rect x="112.4" y="69.6" width="202.2" height="74" fill="#fff" stroke="#000" stroke-width="1.2"/>
<path d="M131.3 80.5H163" stroke="#ff0000" stroke-width="0.6" fill="none"/>
<text class="l" x="175" y="83.7">MV70</text>
<path d="M131.3 96.7H163" stroke="#0000ff" stroke-width="0.6" fill="none"/>
<text class="l" x="175" y="97.5">ILE_WALL</text>
<path d="M131.3 113.5H163" stroke="#800080" stroke-width="0.6" fill="none"/>
<text class="l" x="175" y="116.0">ILE_EXHAUST_AIR</text>
<path d="M131.3 130.8H163" stroke="#008000" stroke-width="0.6" fill="none"/>
<text class="l" x="175" y="132.6">ILE_INTAKE</text>
</svg>
</body></html>
